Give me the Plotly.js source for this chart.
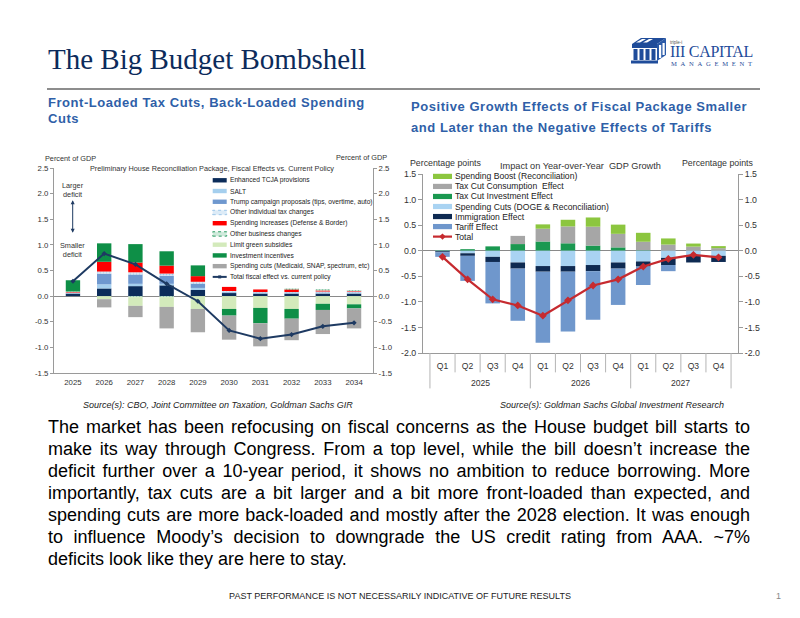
<!DOCTYPE html>
<html><head><meta charset="utf-8">
<script src="https://cdn.plot.ly/plotly-3.0.1.min.js"></script>
<style>
body{margin:0;background:#fff;}
#page{position:relative;width:800px;height:618px;overflow:hidden;font-family:Arial,"Liberation Sans",sans-serif;background:#fff;}
.abs{position:absolute;white-space:nowrap;}
#title{left:48px;top:44.7px;font-family:"Liberation Serif","Times New Roman",serif;font-size:29px;line-height:29px;color:#0c2b5b;}
#rule{left:47px;top:88.3px;width:713px;height:1.5px;background:#8d8d8d;}
.sub{font-weight:bold;font-size:13px;color:#2f5fa8;letter-spacing:0.55px;}
.src{font-style:italic;font-size:9px;line-height:12px;color:#222;}
.para{position:absolute;left:48px;font-size:18px;line-height:22px;color:#000;white-space:nowrap;}
#c1{position:absolute;left:30px;top:145px;width:370px;height:245px;}
#c2{position:absolute;left:400px;top:150px;width:380px;height:245px;}
</style></head>
<body><div id="page">
<div id="title" class="abs">The Big Budget Bombshell</div>
<div id="rule" class="abs"></div>
<svg class="abs" style="left:630px;top:36px" width="38" height="30" viewBox="0 0 38 30">
 <polygon points="2,8 11,2 36,2 27,8" fill="#1f4c9a"/>
 <polygon points="6,6.5 12,3 16,3 10,6.5" fill="#fff"/>
 <polygon points="13,6.5 19,3 23,3 17,6.5" fill="#fff"/>
 <rect x="2" y="8" width="25" height="4" fill="#1f4c9a"/>
 <rect x="3.5" y="13" width="4" height="11" fill="#1f4c9a"/>
 <rect x="9.5" y="13" width="4" height="11" fill="#1f4c9a"/>
 <rect x="15.5" y="13" width="4" height="11" fill="#1f4c9a"/>
 <rect x="21.5" y="13" width="4" height="11" fill="#1f4c9a"/>
 <polygon points="27,8 36,2 36,19 27,25" fill="#2a5aa8"/>
 <rect x="29" y="9" width="2.2" height="13" fill="#fff"/>
 <rect x="32.5" y="7" width="2.2" height="12" fill="#fff"/>
 <rect x="1" y="24.5" width="27" height="3" fill="#1f4c9a"/>
</svg>
<div class="abs" style="left:670px;top:39.5px;font-size:4.5px;line-height:6px;color:#555;">triple-i</div>
<div class="abs" style="left:670px;top:43px;font-family:'Liberation Serif',serif;font-size:16px;line-height:18px;letter-spacing:-0.3px;color:#1f4c9a;">III CAPITAL</div>
<div class="abs" style="left:671px;top:59.5px;font-family:'Liberation Serif',serif;font-size:6.6px;line-height:8px;letter-spacing:3.7px;color:#1f4c9a;">MANAGEMENT</div>

<div class="abs sub" style="left:48px;top:94.8px;line-height:16px;">Front-Loaded Tax Cuts, Back-Loaded Spending<br>Cuts</div>
<div class="abs sub" style="left:411px;top:95.7px;line-height:21px;">Positive Growth Effects of Fiscal Package Smaller<br>and Later than the Negative Effects of Tariffs</div>

<div id="c1"></div>
<div id="c2"></div>

<div class="abs src" style="left:83px;top:399.3px;">Source(s): CBO, Joint Committee on Taxation, Goldman Sachs GIR</div>
<div class="abs src" style="left:500px;top:399.3px;">Source(s): Goldman Sachs Global Investment Research</div>

<div id="paraBox"></div>

<div class="abs" style="left:0;width:800px;text-align:center;top:590px;font-size:9px;line-height:12px;color:#222;">PAST PERFORMANCE IS NOT NECESSARILY INDICATIVE OF FUTURE RESULTS</div>
<div class="abs" style="left:776px;top:590px;font-size:9px;line-height:12px;color:#888;">1</div>
</div>
<script>
// ---------------- Data: left chart (Percent of GDP) ----------------
const years = ['2025','2026','2027','2028','2029','2030','2031','2032','2033','2034'];
const tcja       = [0.05, 0.15, 0.195, 0.21, 0.12, 0.06, 0.05, 0.05, 0.05, 0.05];
const salt       = [0.01, 0.08, 0.045, 0.03, 0.04, 0.01, 0.01, 0.01, 0.01, 0.01];
const trumpCamp  = [0.00, 0.21, 0.18, 0.16, 0.08, 0.01, 0.01, 0.01, 0.01, 0.01];
const otherIndiv = [0.01, 0.04, 0.045, 0.04, 0.04, 0.02, 0.01, 0.01, 0.02, 0.02];
const spendInc   = [0.01, 0.19, 0.19, 0.155, 0.11, 0.08, 0.05, 0.05, 0.02, 0.01];
const otherBiz   = [0.01, 0.00, -0.02, -0.02, 0.00, 0.00, 0.00, 0.02, 0.02, 0.02];
const limitGreen = [0.00, -0.06, -0.17, -0.19, -0.25, -0.25, -0.23, -0.25, -0.15, -0.16];
const investInc  = [0.22, 0.36, 0.36, 0.28, 0.21, -0.13, -0.30, -0.19, -0.12, -0.08];
const spendCuts  = [0.00, -0.16, -0.22, -0.42, -0.455, -0.47, -0.45, -0.42, -0.47, -0.39];
const totalFiscal= [0.29, 0.83, 0.62, 0.24, -0.10, -0.67, -0.83, -0.75, -0.59, -0.52];
const leftNames = ['Enhanced TCJA provisions','SALT','Trump campaign proposals (tips, overtime, auto)',
  'Other individual tax changes','Spending increases (Defense & Border)','Other business changes',
  'Limit green subsidies','Investment incentives','Spending cuts (Medicaid, SNAP, spectrum, etc)',
  'Total fiscal effect vs. current policy'];
const leftTicks = [-1.5, -1.0, -0.5, 0, 0.5, 1.0, 1.5, 2.0, 2.5];
const leftTickText = ['-1.5','-1.0','-0.5','0.0','0.5','1.0','1.5','2.0','2.5'];

// ---------------- Data: right chart (Percentage points) ----------------
const qYears = ['2025','2026','2027'];
const quarters = ['Q1','Q2','Q3','Q4'];
const taxInv     = [0.01, 0.03, 0.085, 0.13, 0.18, 0.145, 0.10, 0.065, 0.01, 0.00, 0.00, 0.00];
const taxCons    = [0.00, 0.00, 0.00, 0.16, 0.25, 0.33, 0.37, 0.265, 0.165, 0.12, 0.08, 0.05];
const spendBoost = [0.00, 0.00, 0.00, 0.00, 0.085, 0.13, 0.18, 0.18, 0.175, 0.12, 0.06, 0.04];
const spendCutsQ = [-0.01, -0.05, -0.12, -0.23, -0.30, -0.30, -0.28, -0.23, -0.21, -0.14, -0.10, -0.10];
const immig      = [-0.02, -0.05, -0.10, -0.12, -0.11, -0.11, -0.12, -0.12, -0.10, -0.14, -0.13, -0.12];
const tariff     = [-0.09, -0.49, -0.81, -1.02, -1.39, -1.17, -0.95, -0.71, -0.36, -0.12, 0.00, 0.00];
const totalQ     = [-0.12, -0.56, -0.95, -1.07, -1.27, -0.97, -0.68, -0.56, -0.31, -0.16, -0.08, -0.13];
const rightNames = ['Spending Boost (Reconciliation)','Tax Cut Consumption  Effect','Tax Cut Investment Effect',
  'Spending Cuts (DOGE & Reconciliation)','Immigration Effect','Tariff Effect','Total'];
const rightTicks = [-2.0, -1.5, -1.0, -0.5, 0, 0.5, 1.0, 1.5];
const rightTickText = ['-2.0','-1.5','-1.0','-0.5','0.0','0.5','1.0','1.5'];

// ---------------- Paragraph ----------------
const paraLines = [
 'The market has been refocusing on fiscal concerns as the House budget bill starts to',
 'make its way through Congress. From a top level, while the bill doesn\u2019t increase the',
 'deficit further over a 10-year period, it shows no ambition to reduce borrowing. More',
 'importantly, tax cuts are a bit larger and a bit more front-loaded than expected, and',
 'spending cuts are more back-loaded and mostly after the 2028 election. It was enough',
 'to influence Moody\u2019s decision to downgrade the US credit rating from AAA. ~7%',
 'deficits look like they are here to stay.'];
const pb = document.getElementById('paraBox');
const PARA_W = 702;
paraLines.forEach((t,i)=>{
  const d=document.createElement('div'); d.className='para';
  d.style.top=(416.4+i*21.9)+'px';
  d.textContent=t; pb.appendChild(d);
  if(i<paraLines.length-1){
    const w=d.getBoundingClientRect().width;
    const gaps=(t.match(/ /g)||[]).length;
    if(gaps>0) d.style.wordSpacing=((PARA_W-w)/gaps)+'px';
  }
});

const FONT='Arial, Liberation Sans, sans-serif';
const AX='#9a9a9a';

// ================= LEFT CHART =================
(function(){
  const P={l:54,r:373,t:167.7,b:373};
  const lx=p=>(p-P.l)/(P.r-P.l), ly=p=>(P.b-p)/(P.b-P.t);
  const styles=[
    {c:'#0b2c5a'},{c:'#a5cfee'},{c:'#6f98cf'},
    {c:'#dcebf7',pat:'#9cc6e8'},{c:'#ff0000'},
    {c:'#cfeadb',pat:'#2f9e66'},{c:'#d3eabb'},{c:'#0e8f47'},{c:'#a6a6a6'}];
  const series=[tcja,salt,trumpCamp,otherIndiv,spendInc,otherBiz,limitGreen,investInc,spendCuts];
  const data=series.map((s,i)=>{
    const m={color:styles[i].c,line:{width:0}};
    if(styles[i].pat) m.pattern={shape:'.',fgcolor:styles[i].pat,bgcolor:styles[i].c,size:3,solidity:0.35};
    return {type:'bar',x:years,y:s,name:leftNames[i],marker:m,hoverinfo:'skip'};
  });
  data.push({type:'scatter',mode:'lines+markers',x:years,y:totalFiscal,name:leftNames[9],
    line:{color:'#1e3a62',width:2},marker:{symbol:'diamond',size:4,color:'#1e3a62'},cliponaxis:false});
  data.push({type:'scatter',mode:'lines',x:years,y:totalFiscal,yaxis:'y2',opacity:0,hoverinfo:'skip',showlegend:false});

  const ann=[], shp=[];
  const tf={family:FONT,size:7.3,color:'#333'};
  ann.push({xref:'paper',yref:'paper',x:lx(212),y:ly(168),text:'Preliminary House Reconciliation Package, Fiscal Effects vs. Current Policy',showarrow:false,xanchor:'center',yanchor:'middle',font:tf});
  ann.push({xref:'paper',yref:'paper',x:lx(42.5),y:ly(158),text:'Percent of GDP',showarrow:false,xanchor:'left',yanchor:'middle',font:tf});
  ann.push({xref:'paper',yref:'paper',x:lx(389),y:ly(157.5),text:'Percent of GDP',showarrow:false,xanchor:'right',yanchor:'middle',font:tf});
  ann.push({xref:'paper',yref:'paper',x:lx(72.5),y:ly(189.5),text:'Larger<br>deficit',showarrow:false,xanchor:'center',yanchor:'middle',font:tf});
  ann.push({xref:'paper',yref:'paper',x:lx(72.5),y:ly(250),text:'Smaller<br>deficit',showarrow:false,xanchor:'center',yanchor:'middle',font:tf});
  ann.push({xref:'paper',yref:'paper',x:lx(72.7),y:ly(200),ax:0,ay:34,text:'',showarrow:true,arrowside:'end+start',
    arrowhead:2,startarrowhead:2,arrowsize:0.8,startarrowsize:0.8,arrowwidth:1,arrowcolor:'#1e3a62'});
  // legend
  const lg0=180, lgStep=10.75, sx0=212.7, sx1=226.7;
  leftNames.forEach((nm,i)=>{
    const yc=lg0+i*lgStep;
    if(i<9){
      const st=styles[i];
      shp.push({type:'rect',xref:'paper',yref:'paper',x0:lx(sx0),x1:lx(sx1),y0:ly(yc+2.2),y1:ly(yc-2.2),
        fillcolor:st.c,line:{width:st.pat?1:0,color:st.pat||st.c,dash:'dot'}});
    } else {
      shp.push({type:'line',xref:'paper',yref:'paper',x0:lx(sx0),x1:lx(sx1),y0:ly(yc),y1:ly(yc),line:{color:'#1e3a62',width:2}});
      shp.push({type:'rect',xref:'paper',yref:'paper',x0:lx((sx0+sx1)/2-1.5),x1:lx((sx0+sx1)/2+1.5),y0:ly(yc+1.5),y1:ly(yc-1.5),fillcolor:'#1e3a62',line:{width:0}});
    }
    ann.push({xref:'paper',yref:'paper',x:lx(228),y:ly(yc),text:nm.replace('&','&amp;'),showarrow:false,xanchor:'left',yanchor:'middle',
      font:{family:FONT,size:6.65,color:'#222'}});
  });

  const yax={range:[-1.5,2.5],tickmode:'array',tickvals:leftTicks,ticktext:leftTickText,showline:true,linecolor:AX,linewidth:1,
    ticks:'outside',ticklen:3,tickcolor:AX,showgrid:false,tickfont:{family:FONT,size:7.8,color:'#333'},fixedrange:true};
  const layout={width:370,height:245,margin:{l:24,r:27,t:22.7,b:17,pad:0},
    barmode:'relative',bargap:0.54,showlegend:false,
    paper_bgcolor:'rgba(0,0,0,0)',plot_bgcolor:'#fff',font:{family:FONT,size:8,color:'#333'},
    xaxis:{type:'category',showline:true,linecolor:AX,linewidth:1,ticks:'',showgrid:false,zeroline:false,
      tickfont:{family:FONT,size:7.8,color:'#333'},ticklabelstandoff:2,fixedrange:true},
    yaxis:Object.assign({},yax,{zeroline:true,zerolinecolor:'#8a8a8a',zerolinewidth:1}),
    yaxis2:Object.assign({},yax,{overlaying:'y',side:'right',zeroline:false}),
    annotations:ann,shapes:shp};
  Plotly.newPlot('c1',data,layout,{staticPlot:true,displayModeBar:false});
})();

// ================= RIGHT CHART =================
(function(){
  const P={l:423,r:738,t:174.3,b:352.7};
  const rx=p=>(p-P.l)/(P.r-P.l), ry=p=>(P.b-p)/(P.b-P.t);
  const xs=[]; const qt=[];
  qYears.forEach(y=>quarters.forEach(q=>{xs.push(y+' '+q); qt.push(q);}));
  const cols={boost:'#8cc63f',cons:'#a6a6a6',inv:'#1a9850',cuts:'#a9d3f2',imm:'#0e2a52',tar:'#6f97cc',tot:'#c62a2f'};
  const stack=[[taxInv,cols.inv,2],[taxCons,cols.cons,1],[spendBoost,cols.boost,0],
               [spendCutsQ,cols.cuts,3],[immig,cols.imm,4],[tariff,cols.tar,5]];
  const data=stack.map(s=>({type:'bar',x:xs,y:s[0],name:rightNames[s[2]],marker:{color:s[1],line:{width:0}},hoverinfo:'skip'}));
  data.push({type:'scatter',mode:'lines+markers',x:xs,y:totalQ,name:rightNames[6],
    line:{color:cols.tot,width:2.2},marker:{symbol:'diamond',size:6,color:cols.tot},cliponaxis:false});
  data.push({type:'scatter',mode:'lines',x:xs,y:totalQ,yaxis:'y2',opacity:0,hoverinfo:'skip',showlegend:false});

  const ann=[], shp=[];
  const tf={family:FONT,size:8.8,color:'#333'};
  ann.push({xref:'paper',yref:'paper',x:rx(580.5),y:ry(166),text:'Impact on Year-over-Year  GDP Growth',showarrow:false,xanchor:'center',yanchor:'middle',font:{family:FONT,size:9.2,color:'#333'}});
  ann.push({xref:'paper',yref:'paper',x:rx(408),y:ry(163.3),text:'Percentage points',showarrow:false,xanchor:'left',yanchor:'middle',font:tf});
  ann.push({xref:'paper',yref:'paper',x:rx(755.5),y:ry(163.3),text:'Percentage points',showarrow:false,xanchor:'right',yanchor:'middle',font:tf});
  const legendColors=[cols.boost,cols.cons,cols.inv,cols.cuts,cols.imm,cols.tar];
  const lg0=176.7, lgStep=10.0, sx0=433, sx1=452;
  rightNames.forEach((nm,i)=>{
    const yc=lg0+i*lgStep;
    if(i<6){
      shp.push({type:'rect',xref:'paper',yref:'paper',x0:rx(sx0),x1:rx(sx1),y0:ry(yc+2.6),y1:ry(yc-2.6),fillcolor:legendColors[i],line:{width:0}});
    } else {
      shp.push({type:'line',xref:'paper',yref:'paper',x0:rx(sx0),x1:rx(sx1),y0:ry(yc),y1:ry(yc),line:{color:cols.tot,width:2.2}});
      const cx=(sx0+sx1)/2;
      shp.push({type:'path',xref:'paper',yref:'paper',
        path:`M${rx(cx)},${ry(yc-3.2)} L${rx(cx+3.2)},${ry(yc)} L${rx(cx)},${ry(yc+3.2)} L${rx(cx-3.2)},${ry(yc)} Z`,
        fillcolor:cols.tot,line:{width:0}});
    }
    ann.push({xref:'paper',yref:'paper',x:rx(453),y:ry(yc),text:nm.replace('&','&amp;'),showarrow:false,xanchor:'left',yanchor:'middle',
      font:{family:FONT,size:8.6,color:'#222'}});
  });
  xs.forEach((x,i)=>{
    const isYear=(i%quarters.length===0);
    shp.push({type:'line',xref:'x',yref:'paper',x0:i-0.5,x1:i-0.5,y0:0,y1:isYear?ry(388):ry(372),line:{color:'#b5b5b5',width:1}});
  });
  shp.push({type:'line',xref:'x',yref:'paper',x0:xs.length-0.5,x1:xs.length-0.5,y0:0,y1:ry(388),line:{color:'#b5b5b5',width:1}});
  qYears.forEach((y,k)=>{
    ann.push({xref:'x',yref:'paper',x:k*quarters.length+(quarters.length-1)/2,y:ry(383),text:y,showarrow:false,xanchor:'center',yanchor:'middle',
      font:{family:FONT,size:8.6,color:'#333'}});
  });

  const yax={range:[-2,1.5],tickmode:'array',tickvals:rightTicks,ticktext:rightTickText,showline:true,linecolor:AX,linewidth:1,
    ticks:'outside',ticklen:4,tickcolor:AX,showgrid:false,tickfont:{family:FONT,size:8.8,color:'#333'},fixedrange:true};
  const layout={width:380,height:245,margin:{l:23,r:42,t:24.3,b:42.3,pad:0},
    barmode:'relative',bargap:0.42,showlegend:false,
    paper_bgcolor:'rgba(0,0,0,0)',plot_bgcolor:'#fff',font:{family:FONT,size:8.6,color:'#333'},
    xaxis:{type:'category',tickvals:xs,ticktext:qt,showline:true,linecolor:AX,linewidth:1,ticks:'',showgrid:false,zeroline:false,
      tickfont:{family:FONT,size:8.6,color:'#333'},ticklabelstandoff:5,fixedrange:true},
    yaxis:Object.assign({},yax,{zeroline:true,zerolinecolor:'#8a8a8a',zerolinewidth:1}),
    yaxis2:Object.assign({},yax,{overlaying:'y',side:'right',zeroline:false}),
    annotations:ann,shapes:shp};
  Plotly.newPlot('c2',data,layout,{staticPlot:true,displayModeBar:false});
})();
</script>
</body></html>
